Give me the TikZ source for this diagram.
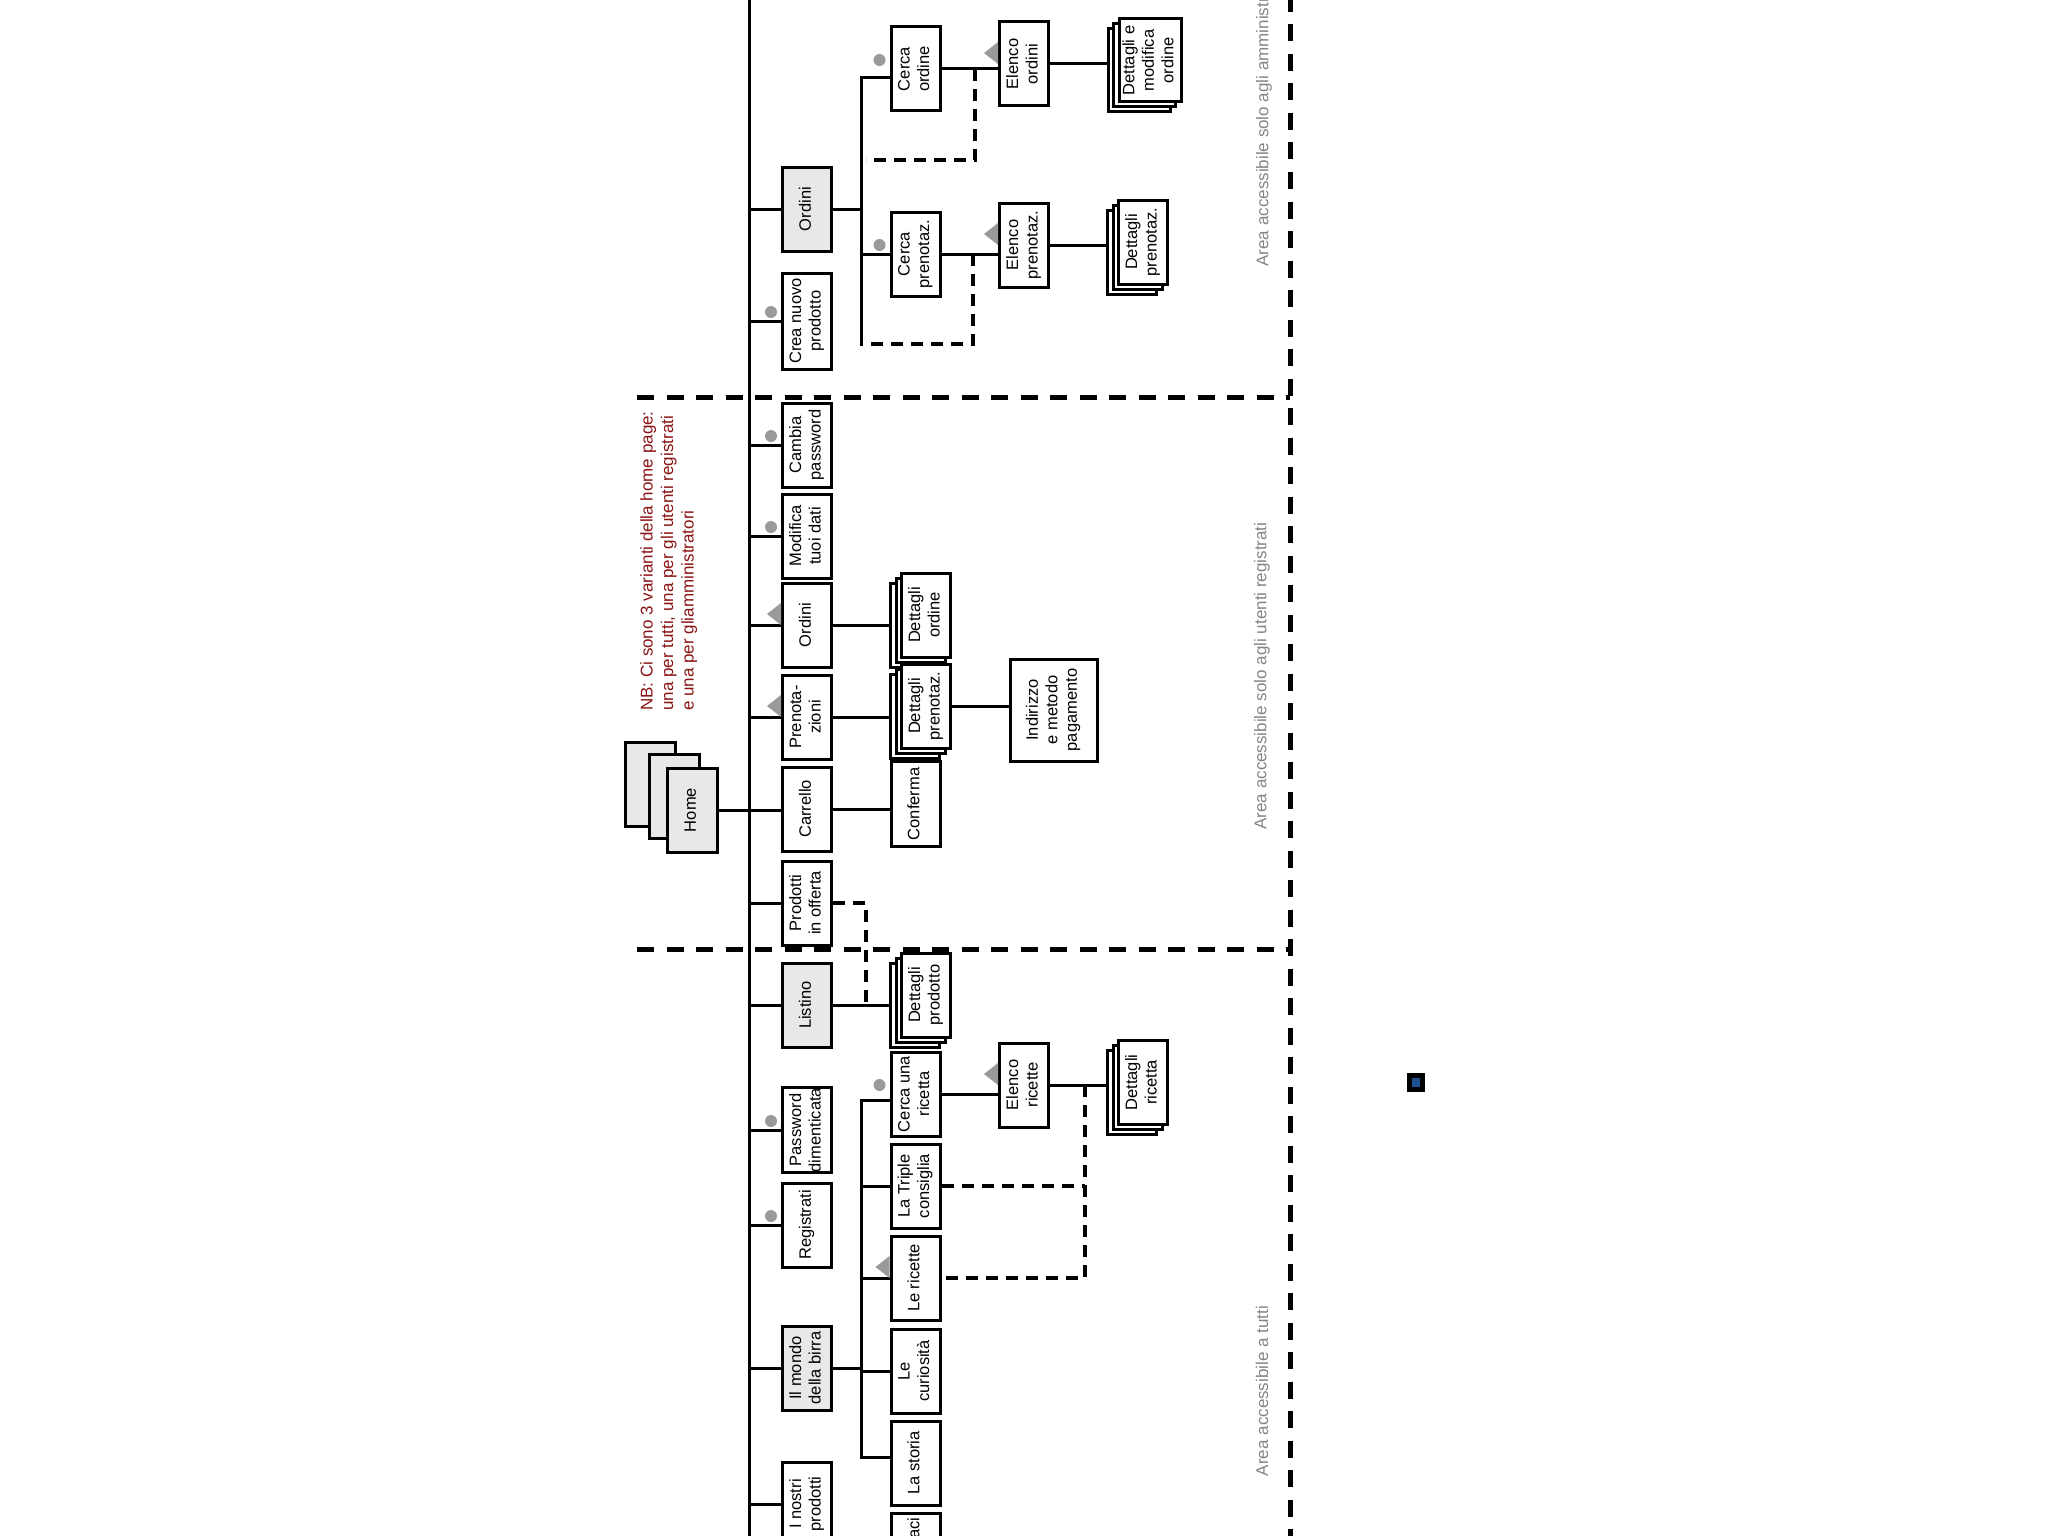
\documentclass[tikz,border=0pt]{standalone}
\usepackage{graphicx}
\usepackage{fontspec}
\setmainfont{Liberation Sans}
\usetikzlibrary{calc, backgrounds, shadows}
\definecolor{pagegray}{HTML}{E8E8E8}
\definecolor{markgray}{HTML}{9A9A9A}
\definecolor{areagray}{HTML}{858585}
\definecolor{nbred}{HTML}{8B1414}
\definecolor{sqblue}{HTML}{1F4F8F}
\newcommand{\vtxt}[1]{\rotatebox{90}{\begin{tabular}{@{}c@{}}#1\end{tabular}}}

\begin{document}
\begin{tikzpicture}[
      x=1pt, y=-1pt,
      every node/.style={font=\fontsize{16.5}{19.5}\selectfont},
      pg/.style={draw, line width=3pt, fill=white, minimum width=49pt, minimum height=84pt, inner sep=0pt},
      pgsel/.style={pg, fill=pagegray},
      stack/.style={pg,
        copy shadow={shadow xshift=-11pt, shadow yshift=-10pt, draw=black, fill=white, line width=3pt},
        copy shadow={shadow xshift=-5.5pt, shadow yshift=-5pt, draw=black, fill=white, line width=3pt}},
      homestack/.style={pgsel, minimum width=50pt,
        copy shadow={shadow xshift=-42pt, shadow yshift=26pt, draw=black, fill=pagegray, line width=3pt},
        copy shadow={shadow xshift=-18pt, shadow yshift=14pt, draw=black, fill=pagegray, line width=3pt}},
      link/.style={line width=3pt, line cap=rect},
      altlink/.style={line width=3.3pt, dash pattern=on 12pt off 8pt},
      zone/.style={line width=5pt, dash pattern=on 17pt off 12.5pt},
      arealbl/.style={rotate=90, text=areagray, font=\fontsize{17}{20}\selectfont},
      note/.style={rotate=90, text=nbred, align=left, inner sep=0pt, font=\fontsize{17}{20.5}\selectfont},
    ]
    \useasboundingbox (0,0) rectangle (2048,1536);
    \clip (0,0) rectangle (2048,1536);

    % Home
    \node[homestack] (home) at (692,810) {\vtxt{Home}};
    \node[note, anchor=north west] (nb) at (640,711) {NB: Ci sono 3 varianti della home page:\\una per tutti, una per gli utenti registrati\\e una per gliamministratori};

    % Area amministratori
    \node[pgsel] (ordA) at (807,209) {\vtxt{Ordini}};
    \node[pg, minimum height=96pt] (crea) at (807,321) {\vtxt{Crea nuovo\\prodotto}};
    \node[pg] (cerO) at (915.5,69) {\vtxt{Cerca\\ordine}};
    \node[pg] (eleO) at (1024,64) {\vtxt{Elenco\\ordini}};
    \node[stack, minimum width=62pt, minimum height=83pt] (detO) at (1150,60.5) {\vtxt{Dettagli e\\modifica\\ordine}};
    \node[pg] (cerP) at (915.5,254) {\vtxt{Cerca\\prenotaz.}};
    \node[pg] (eleP) at (1024,245) {\vtxt{Elenco\\prenotaz.}};
    \node[stack] (detP) at (1143,242) {\vtxt{Dettagli\\prenotaz.}};

    % Area utenti registrati
    \node[pg] (camb) at (807,445) {\vtxt{Cambia\\password}};
    \node[pg] (modif) at (807,536) {\vtxt{Modifica\\tuoi dati}};
    \node[pg] (ordR) at (807,625) {\vtxt{Ordini}};
    \node[pg] (pren) at (807,717) {\vtxt{Prenota-\\zioni}};
    \node[pg] (carr) at (807,809) {\vtxt{Carrello}};
    \node[pg] (offer) at (807,903) {\vtxt{Prodotti\\in offerta}};
    \node[stack] (detOR) at (926,615) {\vtxt{Dettagli\\ordine}};
    \node[stack] (detPR) at (926,706) {\vtxt{Dettagli\\prenotaz.}};
    \node[pg, minimum width=87pt, minimum height=102pt] (indir) at (1053.5,710) {\vtxt{Indirizzo\\e metodo\\pagamento}};
    \node[pg, minimum height=85pt] (conf) at (915.5,804) {\vtxt{Conferma}};

    % Area pubblica
    \node[pgsel] (list) at (807,1005) {\vtxt{Listino}};
    \node[stack] (detPd) at (926,995) {\vtxt{Dettagli\\prodotto}};
    \node[pg] (pwd) at (807,1130) {\vtxt{Password\\dimenticata}};
    \node[pg] (reg) at (807,1225) {\vtxt{Registrati}};
    \node[pgsel] (mondo) at (807,1368) {\vtxt{Il mondo\\della birra}};
    \node[pg] (nostri) at (807,1504) {\vtxt{I nostri\\prodotti}};
    \node[pg] (cerR) at (915.5,1094) {\vtxt{Cerca una\\ricetta}};
    \node[pg] (trip) at (915.5,1186) {\vtxt{La Triple\\consiglia}};
    \node[pg] (lric) at (915.5,1278) {\vtxt{Le ricette}};
    \node[pg] (curio) at (915.5,1371) {\vtxt{Le\\curiosità}};
    \node[pg] (stor) at (915.5,1463) {\vtxt{La storia}};
    \node[pg] (contat) at (915.5,1555) {\vtxt{Contattaci}};
    \node[pg] (eleR) at (1024,1085) {\vtxt{Elenco\\ricette}};
    \node[stack] (detR) at (1143,1082.5) {\vtxt{Dettagli\\ricetta}};

    % Etichette aree
    \node[arealbl, anchor=west] (lblA) at (1264,270) {Area accessibile solo agli amministratori};
    \node[arealbl] (lblR) at (1262,676) {Area accessibile solo agli utenti registrati};
    \node[arealbl] (lblP) at (1262,1391) {Area accessibile a tutti};

    % Punti di snodo
    \coordinate (spT) at (749,-10);
    \coordinate (spB) at (749,1546);
    \coordinate (subAt) at (861,78);
    \coordinate (subAb) at (861,344);
    \coordinate (jO) at (975,69);
    \coordinate (backO) at (866,160);
    \coordinate (jP) at (973,254);
    \coordinate (jL) at (866,1005);
    \coordinate (subBt) at (861,1100);
    \coordinate (subBb) at (861,1457);
    \coordinate (jR) at (1085,1085);

    % Collegamenti
    \begin{scope}[on background layer]
      \fill[white] (0,0) rectangle (2048,1536);
      \draw[link] (spT) -- (spB);
      \foreach \n in {crea,ordA,camb,modif,ordR,pren,offer,list,pwd,reg,mondo,nostri}
        \draw[link] (\n.west -| spT) -- (\n.west);
      \draw[link] (home.east) -- (home.east -| carr.west);
      % amministratori
      \draw[link] (ordA.east) -- (ordA.east -| subAt);
      \draw[link] (subAt) -- (subAb);
      \draw[link] (subAt) -- (subAt -| cerO.west);
      \draw[link] (cerP.west -| subAt) -- (cerP.west);
      \draw[link] (cerO.east) -- (cerO.east -| eleO.west);
      \draw[link] (eleO.east) -- (eleO.east -| detO.west);
      \draw[link] (cerP.east) -- (cerP.east -| eleP.west);
      \draw[link] (eleP.east) -- (eleP.east -| detP.west);
      \draw[altlink] (jO) |- (backO);
      \draw[altlink] (jP) |- (subAb);
      % registrati
      \draw[link] (ordR.east) -- (ordR.east -| detOR.west);
      \draw[link] (pren.east) -- (pren.east -| detPR.west);
      \draw[link] (detPR.east) -- (detPR.east -| indir.west);
      \draw[link] (carr.east) -- (carr.east -| conf.west);
      \draw[altlink] (offer.east) -| (jL);
      % pubblico
      \draw[link] (list.east) -- (list.east -| detPd.west);
      \draw[link] (mondo.east) -- (mondo.east -| subBt);
      \draw[link] (subBt) -- (subBb);
      \draw[link] (subBt) -- (subBt -| cerR.west);
      \foreach \n in {trip,lric,curio}
        \draw[link] (\n.west -| subBt) -- (\n.west);
      \draw[link] (subBb) -- (subBb -| stor.west);
      \draw[link] (cerR.east) -- (cerR.east -| eleR.west);
      \draw[link] (eleR.east) -- (eleR.east -| detR.west);
      \draw[altlink] (jR) |- (lric.east);
      \draw[altlink] (trip.east) -- (trip.east -| jR);
    \end{scope}

    % Segni grigi
    \foreach \n in {crea,cerO,cerP,camb,modif,pwd,reg,cerR}
      \fill[markgray] ($(\n.west)+(-10,-9)$) circle (6pt);
    \foreach \n in {eleO,eleP,eleR,ordR,pren,lric}
      \fill[markgray] ($(\n.west)+(0,-22)$) -- ++(-14,11) -- ++(14,11) -- cycle;

    % Confini delle aree
    \coordinate (zoneT) at (1290,-5);
    \coordinate (zoneB) at (1290,1541);
    \coordinate (zA) at (637,397);
    \coordinate (zR) at (637,949);
    \draw[zone] (zoneT) -- (zoneB);
    \draw[zone] (zA) -- (zA -| zoneT);
    \draw[zone] (zR) -- (zR -| zoneT);

    \fill (1407,1073) rectangle (1425,1092);
    \fill[sqblue] (1412,1078) rectangle (1420,1087);
  \end{tikzpicture}
\end{document}
